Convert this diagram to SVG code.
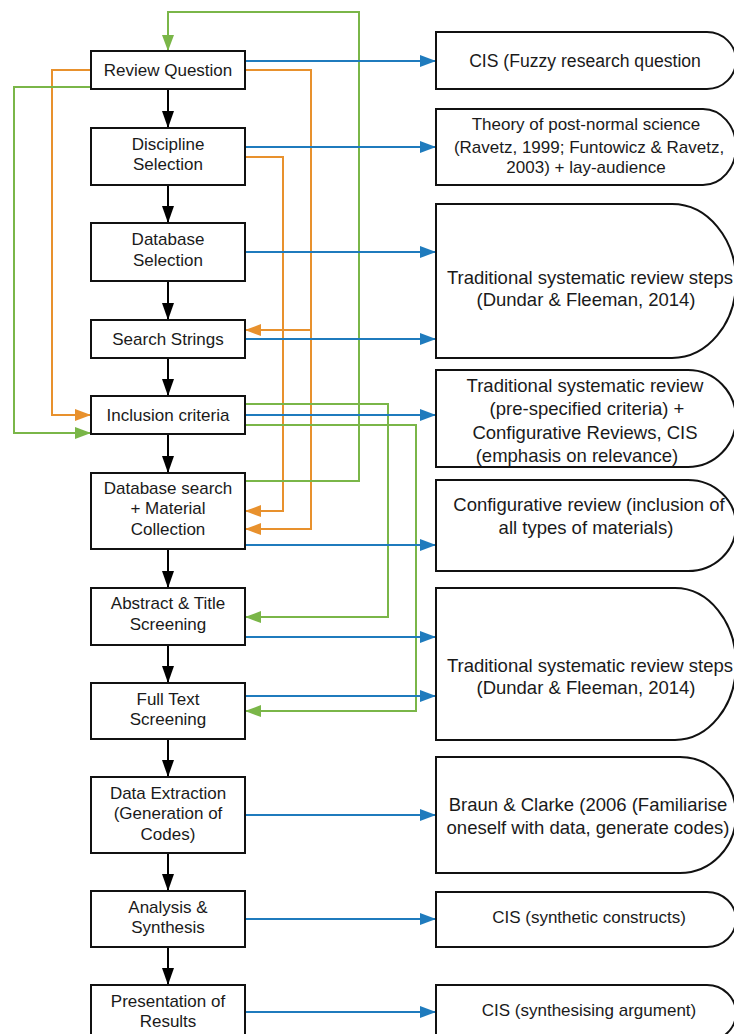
<svg xmlns="http://www.w3.org/2000/svg" width="734" height="1034" viewBox="0 0 734 1034">
<style>
.box{fill:#fff;stroke:#111;stroke-width:2}
.t{font-family:"Liberation Sans",Arial,sans-serif;fill:#1a1a1a;text-anchor:middle}
.l{font-size:17px}
.r{font-size:18.5px}
.s{font-size:17px}
.k{fill:none;stroke:#000;stroke-width:2}
.b{fill:none;stroke:#1f7bbd;stroke-width:2}
.o{fill:none;stroke:#e8912d;stroke-width:2}
.g{fill:none;stroke:#7ab648;stroke-width:2}
</style>
<defs>
<marker id="ak" markerUnits="userSpaceOnUse" markerWidth="17" markerHeight="12" refX="17" refY="6" orient="auto" viewBox="0 0 17 12"><path d="M0,0 L17,6 L0,12 z" fill="#000"/></marker>
<marker id="ab" markerUnits="userSpaceOnUse" markerWidth="16" markerHeight="12" refX="16" refY="6" orient="auto" viewBox="0 0 16 12"><path d="M0,0 L16,6 L0,12 z" fill="#1f7bbd"/></marker>
<marker id="ao" markerUnits="userSpaceOnUse" markerWidth="16" markerHeight="12" refX="16" refY="6" orient="auto" viewBox="0 0 16 12"><path d="M0,0 L16,6 L0,12 z" fill="#e8912d"/></marker>
<marker id="ag" markerUnits="userSpaceOnUse" markerWidth="16" markerHeight="12" refX="16" refY="6" orient="auto" viewBox="0 0 16 12"><path d="M0,0 L16,6 L0,12 z" fill="#7ab648"/></marker>
</defs>
<rect width="734" height="1034" fill="#fff"/>

<g id="connectors">
<!-- black flow -->
<path class="k" d="M168,89 V128" marker-end="url(#ak)"/>
<path class="k" d="M168,185 V223" marker-end="url(#ak)"/>
<path class="k" d="M168,281 V320" marker-end="url(#ak)"/>
<path class="k" d="M168,358 V396" marker-end="url(#ak)"/>
<path class="k" d="M168,434 V473" marker-end="url(#ak)"/>
<path class="k" d="M168,549 V588" marker-end="url(#ak)"/>
<path class="k" d="M168,645 V683" marker-end="url(#ak)"/>
<path class="k" d="M168,739 V777" marker-end="url(#ak)"/>
<path class="k" d="M168,853 V891" marker-end="url(#ak)"/>
<path class="k" d="M168,947 V985" marker-end="url(#ak)"/>
<!-- orange -->
<path class="o" d="M91,70 H52 V415 H91" marker-end="url(#ao)"/>
<path class="o" d="M245,70 H311 V330 H245" marker-end="url(#ao)"/>
<path class="o" d="M311,330 V529 H245" marker-end="url(#ao)"/>
<path class="o" d="M245,157 H283 V511 H245" marker-end="url(#ao)"/>
<!-- green -->
<path class="g" d="M91,87 H14 V433 H91" marker-end="url(#ag)"/>
<path class="g" d="M245,481 H359 V12 H168 V51" marker-end="url(#ag)"/>
<path class="g" d="M245,404 H388 V617 H245" marker-end="url(#ag)"/>
<path class="g" d="M245,425 H416 V711 H245" marker-end="url(#ag)"/>
<!-- blue -->
<path class="b" d="M245,61 H436" marker-end="url(#ab)"/>
<path class="b" d="M245,147 H436" marker-end="url(#ab)"/>
<path class="b" d="M245,252 H436" marker-end="url(#ab)"/>
<path class="b" d="M245,339 H436" marker-end="url(#ab)"/>
<path class="b" d="M245,415 H436" marker-end="url(#ab)"/>
<path class="b" d="M245,545 H436" marker-end="url(#ab)"/>
<path class="b" d="M245,637 H436" marker-end="url(#ab)"/>
<path class="b" d="M245,696 H436" marker-end="url(#ab)"/>
<path class="b" d="M245,815 H436" marker-end="url(#ab)"/>
<path class="b" d="M245,919 H436" marker-end="url(#ab)"/>
<path class="b" d="M245,1012 H436" marker-end="url(#ab)"/>
</g>

<g id="review-question"><rect class="box" x="91" y="51" width="154" height="38"/><text class="t l" x="168" y="76">Review Question</text></g>
<g id="discipline-selection"><rect class="box" x="91" y="128" width="154" height="57"/><text class="t l" x="168" y="150">Discipline</text><text class="t l" x="168" y="170">Selection</text></g>
<g id="database-selection"><rect class="box" x="91" y="223" width="154" height="58"/><text class="t l" x="168" y="245">Database</text><text class="t l" x="168" y="266">Selection</text></g>
<g id="search-strings"><rect class="box" x="91" y="320" width="154" height="38"/><text class="t l" x="168" y="345">Search Strings</text></g>
<g id="inclusion-criteria"><rect class="box" x="91" y="396" width="154" height="38"/><text class="t l" x="168" y="421">Inclusion criteria</text></g>
<g id="database-search"><rect class="box" x="91" y="473" width="154" height="76"/><text class="t l" x="168" y="494">Database search</text><text class="t l" x="168" y="514">+ Material</text><text class="t l" x="168" y="535">Collection</text></g>
<g id="abstract-title"><rect class="box" x="91" y="588" width="154" height="57"/><text class="t l" x="168" y="609">Abstract &amp; Title</text><text class="t l" x="168" y="630">Screening</text></g>
<g id="full-text"><rect class="box" x="91" y="683" width="154" height="56"/><text class="t l" x="168" y="705">Full Text</text><text class="t l" x="168" y="725">Screening</text></g>
<g id="data-extraction"><rect class="box" x="91" y="777" width="154" height="76"/><text class="t l" x="168" y="799">Data Extraction</text><text class="t l" x="168" y="819">(Generation of</text><text class="t l" x="168" y="840">Codes)</text></g>
<g id="analysis-synthesis"><rect class="box" x="91" y="891" width="154" height="56"/><text class="t l" x="168" y="913">Analysis &amp;</text><text class="t l" x="168" y="933">Synthesis</text></g>
<g id="presentation"><rect class="box" x="91" y="985" width="154" height="56"/><text class="t l" x="168" y="1007">Presentation of</text><text class="t l" x="168" y="1027">Results</text></g>

<g id="r-cis-fuzzy"><path class="box" d="M436,32 H707 A29,28.5 0 0 1 707,89 H436 Z"/><text class="t" style="font-size:17.6px" x="585" y="67">CIS (Fuzzy research question</text></g>
<g id="r-post-normal"><path class="box" d="M436,109 H703 A33,38 0 0 1 703,185 H436 Z"/><text class="t s" x="586" y="130">Theory of post-normal science</text><text class="t s" x="589" y="153">(Ravetz, 1999; Funtowicz &amp; Ravetz,</text><text class="t s" x="586" y="173">2003) + lay-audience</text></g>
<g id="r-traditional-1"><path class="box" d="M436,204 H672 A64,77 0 0 1 672,358 H436 Z"/><text class="t r" x="590" y="284">Traditional systematic review steps</text><text class="t r" x="586" y="306">(Dundar &amp; Fleeman, 2014)</text></g>
<g id="r-prespecified"><path class="box" d="M436,370 H688 A48,48.5 0 0 1 688,467 H436 Z"/><text class="t r" x="585" y="392">Traditional systematic review</text><text class="t r" x="587" y="415">(pre-specified criteria) +</text><text class="t r" x="585" y="439">Configurative Reviews, CIS</text><text class="t r" x="577" y="462">(emphasis on relevance)</text></g>
<g id="r-configurative"><path class="box" d="M436,480 H688 A48,45.5 0 0 1 688,571 H436 Z"/><text class="t r" x="589" y="511">Configurative review (inclusion of</text><text class="t r" x="586" y="534">all types of materials)</text></g>
<g id="r-traditional-2"><path class="box" d="M436,588 H675 A61,76 0 0 1 675,740 H436 Z"/><text class="t r" x="590" y="672">Traditional systematic review steps</text><text class="t r" x="586" y="694">(Dundar &amp; Fleeman, 2014)</text></g>
<g id="r-braun"><path class="box" d="M436,757 H680 A56,58 0 0 1 680,873 H436 Z"/><text class="t r" x="588" y="811">Braun &amp; Clarke (2006 (Familiarise</text><text class="t r" x="588" y="834">oneself with data, generate codes)</text></g>
<g id="r-synthetic"><path class="box" d="M436,892 H707 A29,27.5 0 0 1 707,947 H436 Z"/><text class="t s" x="589" y="923">CIS (synthetic constructs)</text></g>
<g id="r-synthesising"><path class="box" d="M436,985 H707 A29,28 0 0 1 707,1041 H436 Z"/><text class="t s" x="589" y="1016">CIS (synthesising argument)</text></g>
</svg>
